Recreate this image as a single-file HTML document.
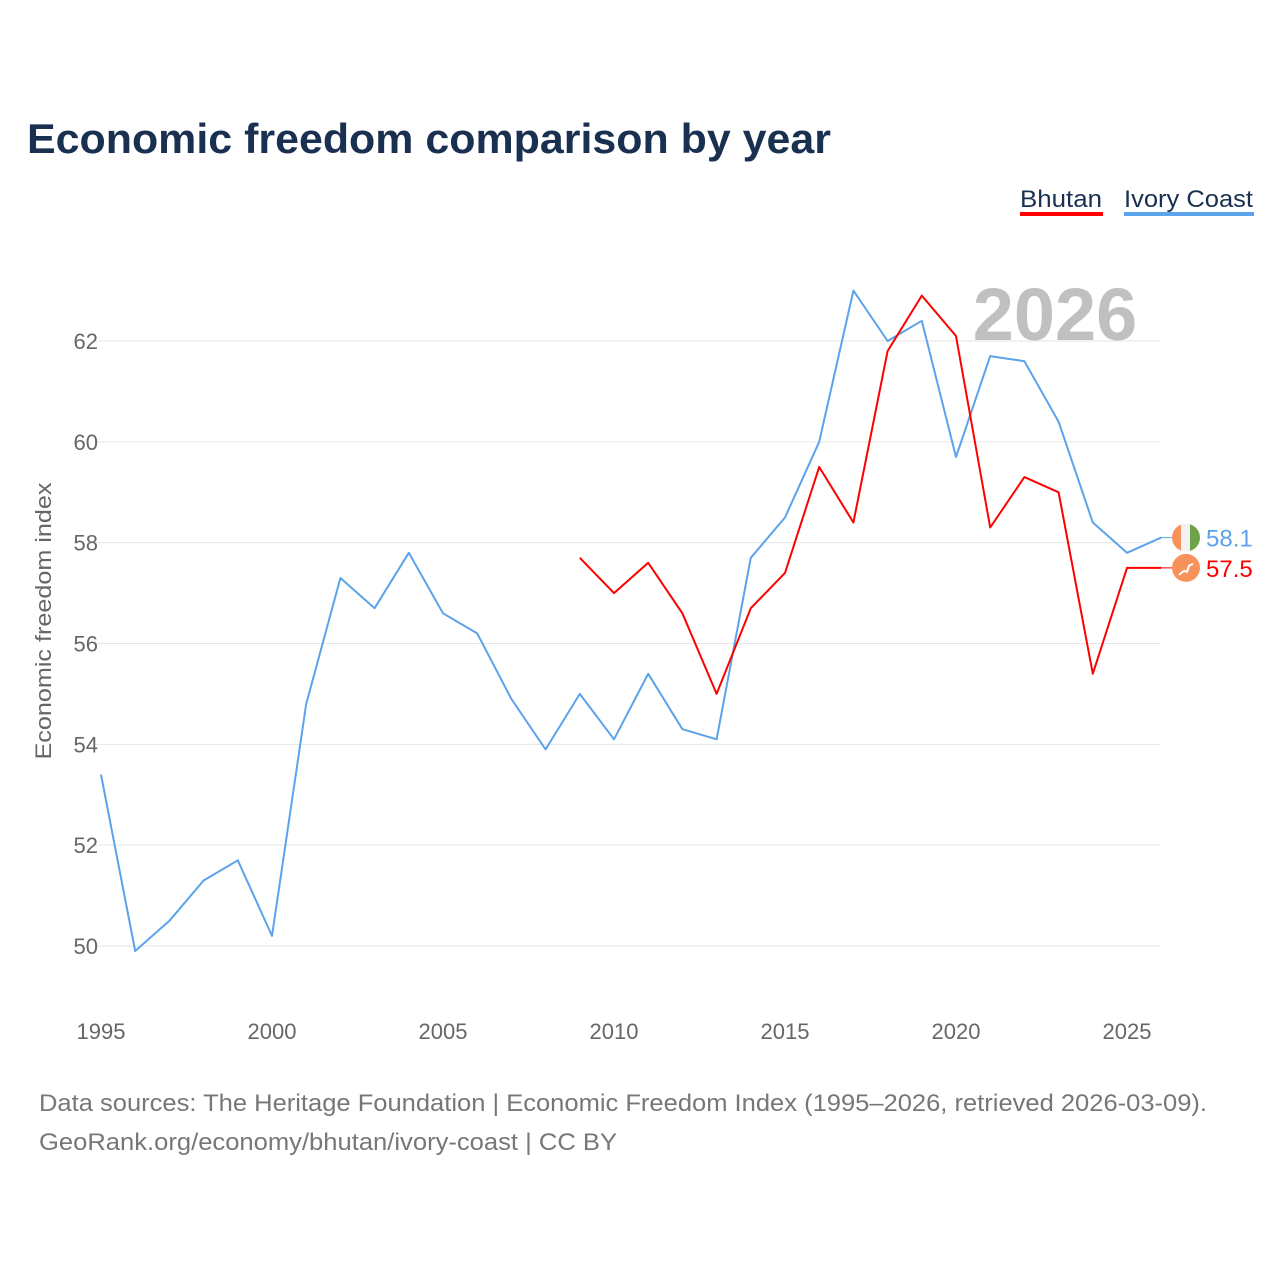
<!DOCTYPE html>
<html><head><meta charset="utf-8"><style>
html,body{margin:0;padding:0;background:#fff;}
svg{display:block;font-family:"Liberation Sans",sans-serif;}
</style></head><body>
<svg id="chart" width="1280" height="1280" viewBox="0 0 1280 1280">
<text x="27" y="153" font-size="42" font-weight="bold" fill="#1a3050" textLength="804" lengthAdjust="spacingAndGlyphs">Economic freedom comparison by year</text>
<g>
<g><text x="1020" y="207" font-size="24" fill="#1a3050" textLength="82" lengthAdjust="spacingAndGlyphs">Bhutan</text><rect x="1020" y="212" width="83" height="4" fill="#ff0000"/></g>
<g><text x="1124" y="207" font-size="24" fill="#1a3050" textLength="129" lengthAdjust="spacingAndGlyphs">Ivory Coast</text><rect x="1124" y="212" width="130" height="4" fill="#5ba3ea"/></g>
</g>
<text x="1055" y="340" font-size="74" font-weight="bold" fill="#c0c0c0" text-anchor="middle">2026</text>
<g id="grid"></g><g id="xticks"></g><g id="lines"></g>
<text transform="translate(51,621) rotate(-90)" font-size="22" fill="#666" text-anchor="middle" textLength="277" lengthAdjust="spacingAndGlyphs">Economic freedom index</text>
<text x="39" y="1111" font-size="24" fill="#777" textLength="1168" lengthAdjust="spacingAndGlyphs">Data sources: The Heritage Foundation | Economic Freedom Index (1995–2026, retrieved 2026-03-09).</text>
<text x="39" y="1150" font-size="24" fill="#777" textLength="578" lengthAdjust="spacingAndGlyphs">GeoRank.org/economy/bhutan/ivory-coast | CC BY</text>
</svg>
<script>
const years=[1995,1996,1997,1998,1999,2000,2001,2002,2003,2004,2005,2006,2007,2008,2009,2010,2011,2012,2013,2014,2015,2016,2017,2018,2019,2020,2021,2022,2023,2024,2025,2026];
const ivoryCoast=[53.4,49.9,50.5,51.3,51.7,50.2,54.8,57.3,56.7,57.8,56.6,56.2,54.9,53.9,55.0,54.1,55.4,54.3,54.1,57.7,58.5,60.0,63.0,62.0,62.4,59.7,61.7,61.6,60.4,58.4,57.8,58.1];
const bhutanYears=[2009,2010,2011,2012,2013,2014,2015,2016,2017,2018,2019,2020,2021,2022,2023,2024,2025,2026];
const bhutan=[57.7,57.0,57.6,56.6,55.0,56.7,57.4,59.5,58.4,61.8,62.9,62.1,58.3,59.3,59.0,55.4,57.5,57.5];
const yTicks=[50,52,54,56,58,60,62];
const xTicks=[1995,2000,2005,2010,2015,2020,2025];
const NS="http://www.w3.org/2000/svg";
const xs=y=>101+(y-1995)*(1127-101)/30;
const ys=v=>946-(v-50)*(946-341)/12;
function mk(t,a,p){const e=document.createElementNS(NS,t);for(const k in a)e.setAttribute(k,a[k]);p.appendChild(e);return e;}
const grid=document.getElementById('grid');
yTicks.forEach(v=>{
 const l=mk('line',{x1:95,x2:1161,y1:ys(v),y2:ys(v),stroke:'#e6e6e6','stroke-width':1},grid);
 
 
 const t=mk('text',{x:98,y:ys(v)+8,'font-size':22,fill:'#666','text-anchor':'end'},grid);
 t.textContent=v;
 
 
});
const xt=document.getElementById('xticks');
xTicks.forEach(y=>{
 const t=mk('text',{x:xs(y),y:1039,'font-size':22,fill:'#666','text-anchor':'middle'},xt);
 t.textContent=y;
 
 
});
const lines=document.getElementById('lines');
function series(xv,yv,col,name){
 const d=xv.map((y,i)=>(i?'L':'M')+xs(y).toFixed(1)+','+ys(yv[i]).toFixed(1)).join(' ');
 const p=mk('path',{d:d,fill:'none',stroke:col,'stroke-width':2,'stroke-linejoin':'round'},lines);
 
 
}
series(years,ivoryCoast,'#5ba3ea','ivory-coast');
series(bhutanYears,bhutan,'#ff0000','bhutan');
const icLast=ivoryCoast[ivoryCoast.length-1], bLast=bhutan[bhutan.length-1];
const icY=ys(icLast), bY=ys(bLast);
mk('line',{x1:1161,y1:icY,x2:1172,y2:icY,stroke:'#5ba3ea','stroke-width':1},lines);
mk('line',{x1:1161,y1:bY,x2:1172,y2:bY,stroke:'#ff0000','stroke-width':1},lines);
const f1=mk('g',{},lines);


const cp=mk('clipPath',{id:'c1'},f1);
mk('circle',{cx:1186,cy:icY,r:14},cp);
const gc=mk('g',{'clip-path':'url(#c1)'},f1);
mk('rect',{x:1172,y:icY-14,width:10,height:28,fill:'#f7935a'},gc);
mk('rect',{x:1181,y:icY-14,width:10,height:28,fill:'#f2f2f2'},gc);
mk('rect',{x:1190,y:icY-14,width:10,height:28,fill:'#6ea34a'},gc);
const f2=mk('g',{},lines);


mk('circle',{cx:1186,cy:bY,r:14,fill:'#f7935a'},f2);
mk('path',{d:`M1179,${bY+7} l5,-4 l3,1 l2,-6 l4,-2`,stroke:'#fff','stroke-width':2,fill:'none'},f2);
const t1=mk('text',{x:1206,y:icY+9,'font-size':24,fill:'#5ba3ea'},lines);
t1.textContent=icLast.toFixed(1);


const t2=mk('text',{x:1206,y:bY+9,'font-size':24,fill:'#ff0000'},lines);
t2.textContent=bLast.toFixed(1);


</script>
</body></html>
